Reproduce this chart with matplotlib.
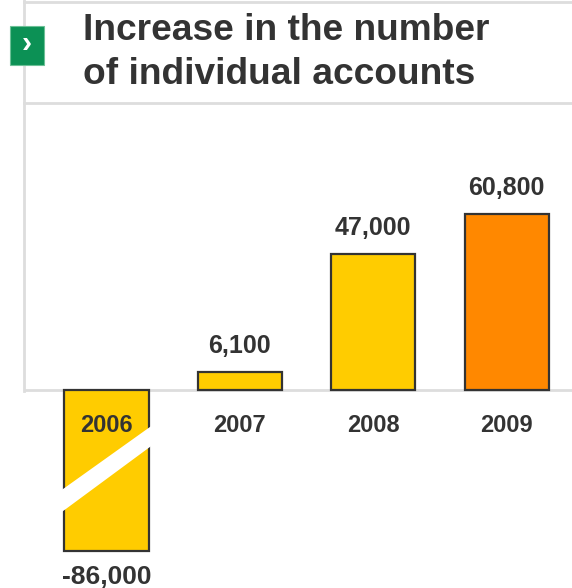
import matplotlib.pyplot as plt
from matplotlib.patches import Rectangle, Polygon

plt.rcParams['font.family'] = ['Liberation Sans', 'DejaVu Sans']

years = ['2006', '2007', '2008', '2009']
increase = [-86000, 6100, 47000, 60800]
bar_colors = ['#ffcc00', '#ffcc00', '#ffcc00', '#ff8800']

# the 2006 bar is cut off at this depth and drawn with a break
cut_at = -55700

W, H = 572, 588
fig = plt.figure(figsize=(W / 100, H / 100), dpi=100)

# overlay in pixel units for the header frame
frame = fig.add_axes([0, 0, 1, 1])
frame.set_xlim(0, W)
frame.set_ylim(H, 0)
frame.axis('off')

line_col = '#dddddd'
frame.plot([24, 24], [0, 391], color=line_col, lw=2, zorder=1)
frame.plot([24, W], [2, 2], color=line_col, lw=2, zorder=1)
frame.plot([24, W], [103, 103], color=line_col, lw=2, zorder=1)
frame.add_patch(Rectangle((10, 26), 34, 39, facecolor='#0c9155',
                          edgecolor='#6cc096', lw=0.8, zorder=3))
frame.text(27, 44, '›', color='white', fontsize=22, fontweight='bold',
           ha='center', va='center', zorder=4)
frame.text(83, 31, 'Increase in the number', fontsize=26.7, fontweight='bold',
           color='#333333', va='center', ha='left')
frame.text(83, 74, 'of individual accounts', fontsize=26.7, fontweight='bold',
           color='#333333', va='center', ha='left')

# bar chart
ax = fig.add_axes([0, 0, 1, 1])
ax.patch.set_alpha(0)
px_per_unit = 2.89 / 1000
zero_px = 390
ax.set_ylim(-(H - zero_px) / px_per_unit, zero_px / px_per_unit)
step = 133.4
ax.set_xlim(-106.5 / step, (W - 106.5) / step)
ax.axis('off')

ax.plot([24 / step - 106.5 / step, (W - 106.5) / step], [0, 0],
        color=line_col, lw=2, zorder=1, solid_capstyle='butt')

shown = [max(v, cut_at) for v in increase]
bw = 0.63
ax.bar(range(len(years)), shown, width=bw, color=bar_colors,
       edgecolor='#333333', linewidth=1.6, zorder=2)

# break stripe across the 2006 bar
def px2v(p):
    return (zero_px - p) / px_per_unit

hx = bw / 2 + 0.03
slope_top = (px2v(428) - px2v(488)) / bw
slope_bot = (px2v(448) - px2v(510)) / bw
mid_top = (px2v(428) + px2v(488)) / 2
mid_bot = (px2v(448) + px2v(510)) / 2
stripe = Polygon([(-hx, mid_top - slope_top * hx), (hx, mid_top + slope_top * hx),
                  (hx, mid_bot + slope_bot * hx), (-hx, mid_bot - slope_bot * hx)],
                 closed=True, facecolor='white', edgecolor='none', zorder=3)
ax.add_patch(stripe)

for i, (y, v, s) in enumerate(zip(years, increase, shown)):
    ax.text(i, px2v(426), y, ha='center', va='center', fontsize=17,
            fontweight='bold', color='#333333', zorder=4)
    if v >= 0:
        ax.text(i, s + 26 / px_per_unit, f'{v:,}', ha='center', va='center',
                fontsize=18, fontweight='bold', color='#333333')
    else:
        ax.text(i, s - 26 / px_per_unit, f'{v:,}', ha='center', va='center',
                fontsize=19, fontweight='bold', color='#333333')

fig.savefig('out.png', dpi=100)
